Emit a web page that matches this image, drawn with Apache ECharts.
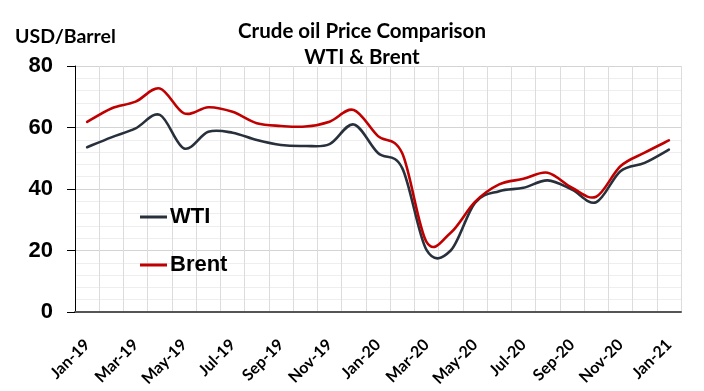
<!DOCTYPE html>
<html>
<head>
<meta charset="utf-8">
<script src="https://cdn.jsdelivr.net/npm/echarts@6/dist/echarts.min.js"></script>
<style>
html,body{margin:0;padding:0;background:#fff;}
#chart{width:704px;height:391px;}
</style>
</head>
<body>
<div id="chart"></div>
<script>
const months = ["Jan-19","Feb-19","Mar-19","Apr-19","May-19","Jun-19","Jul-19","Aug-19","Sep-19","Oct-19","Nov-19","Dec-19",
  "Jan-20","Feb-20","Mar-20","Apr-20","May-20","Jun-20","Jul-20","Aug-20","Sep-20","Oct-20","Nov-20","Dec-20","Jan-21"];
const wti = [53.6, 56.8, 59.7, 64.1, 53.2, 58.6, 58.3, 55.9, 54.3, 54.0, 54.6, 61.0,
  51.7, 46.8, 20.2, 20.0, 35.5, 39.3, 40.4, 42.8, 39.8, 35.7, 45.8, 48.5, 52.8];
const brent = [61.8, 66.2, 68.4, 72.7, 64.6, 66.6, 65.1, 61.4, 60.5, 60.3, 61.9, 65.7,
  57.2, 51.6, 22.8, 25.8, 35.8, 41.5, 43.3, 45.3, 40.4, 37.5, 47.4, 51.8, 55.8];
const yTicks = [0, 20, 40, 60, 80];

// Smooth (Catmull-Rom style) curve through the data, positioned via the axes
function smoothSeries(values, color) {
  return {
    type: 'custom',
    data: values.map((v, i) => [i, v]),
    encode: {x: 0, y: 1},
    itemStyle: {color: color},
    silent: true,
    renderItem: function (params, api) {
      if (params.dataIndex !== 0) return null;
      const pts = values.map((v, i) => api.coord([i, v]));
      const n = pts.length;
      let d = 'M' + pts[0][0] + ' ' + pts[0][1];
      for (let i = 0; i < n - 1; i++) {
        const p0 = pts[Math.max(i - 1, 0)], p1 = pts[i], p2 = pts[i + 1], p3 = pts[Math.min(i + 2, n - 1)];
        const c1x = p1[0] + (p2[0] - p0[0]) / 6, c1y = p1[1] + (p2[1] - p0[1]) / 6;
        const c2x = p2[0] - (p3[0] - p1[0]) / 6, c2y = p2[1] - (p3[1] - p1[1]) / 6;
        d += ' C' + c1x + ' ' + c1y + ' ' + c2x + ' ' + c2y + ' ' + p2[0] + ' ' + p2[1];
      }
      return {type: 'path', shape: {pathData: d},
              style: {stroke: color, lineWidth: 2.6, fill: null, lineJoin: 'round', lineCap: 'round'}};
    }
  };
}

const chart = echarts.init(document.getElementById('chart'));
const wtiSeries = Object.assign({name: 'WTI'}, smoothSeries(wti, '#27303b'));
const brentSeries = Object.assign({name: 'Brent'}, smoothSeries(brent, '#c00000'));
chart.setOption({
  animation: false,
  backgroundColor: '#ffffff',
  title: [
    {text: 'Crude oil Price Comparison\nWTI & Brent', left: 362, top: 18, textAlign: 'center', padding: 0,
     textStyle: {fontFamily: 'Lato', fontWeight: 'bold', fontSize: 20.5, lineHeight: 26, color: '#000'}},
    {text: 'USD/Barrel', left: 15, top: 27, padding: 0,
     textStyle: {fontFamily: 'Lato', fontWeight: 'bold', fontSize: 19.5, color: '#000'}}
  ],
  legend: [
    {data: ['WTI'], orient: 'vertical', left: 140, top: 205, padding: 0, icon: 'rect', itemWidth: 27, itemHeight: 3,
     textStyle: {fontFamily: 'Liberation Sans', fontWeight: 'bold', fontSize: 22, lineHeight: 24, color: '#000', padding: [0, 0, 0, -2]}},
    {data: ['Brent'], orient: 'vertical', left: 140, top: 253, padding: 0, icon: 'rect', itemWidth: 27, itemHeight: 3,
     textStyle: {fontFamily: 'Liberation Sans', fontWeight: 'bold', fontSize: 22, lineHeight: 24, color: '#000', padding: [0, 0, 0, -2]}}
  ],
  grid: {left: 75, right: 23, top: 66, bottom: 79},
  xAxis: {
    type: 'category', data: months, boundaryGap: true,
    axisLine: {show: true, lineStyle: {color: '#555', width: 2}},
    axisTick: {show: false},
    axisLabel: {interval: 1, rotate: 45, margin: 30, fontFamily: 'Lato', fontWeight: 'bold', fontSize: 16, color: '#000'},
    splitLine: {show: true, interval: 0, lineStyle: {color: '#dcdcdc', width: 1}}
  },
  yAxis: {
    type: 'value', min: yTicks[0], max: yTicks[yTicks.length - 1], interval: 20,
    axisLine: {show: true, lineStyle: {color: '#000', width: 1}},
    axisTick: {show: true, length: 8, lineStyle: {color: '#000'}},
    axisLabel: {margin: 22, fontFamily: 'Liberation Sans', fontWeight: 'bold', fontSize: 22, color: '#000'},
    splitLine: {show: true, lineStyle: {color: '#d4d4d4', width: 1}},
    minorTick: {show: false, splitNumber: 5},
    minorSplitLine: {show: true, lineStyle: {color: '#eeeeee', width: 1}}
  },
  series: [wtiSeries, brentSeries]
});
</script>
</body>
</html>
